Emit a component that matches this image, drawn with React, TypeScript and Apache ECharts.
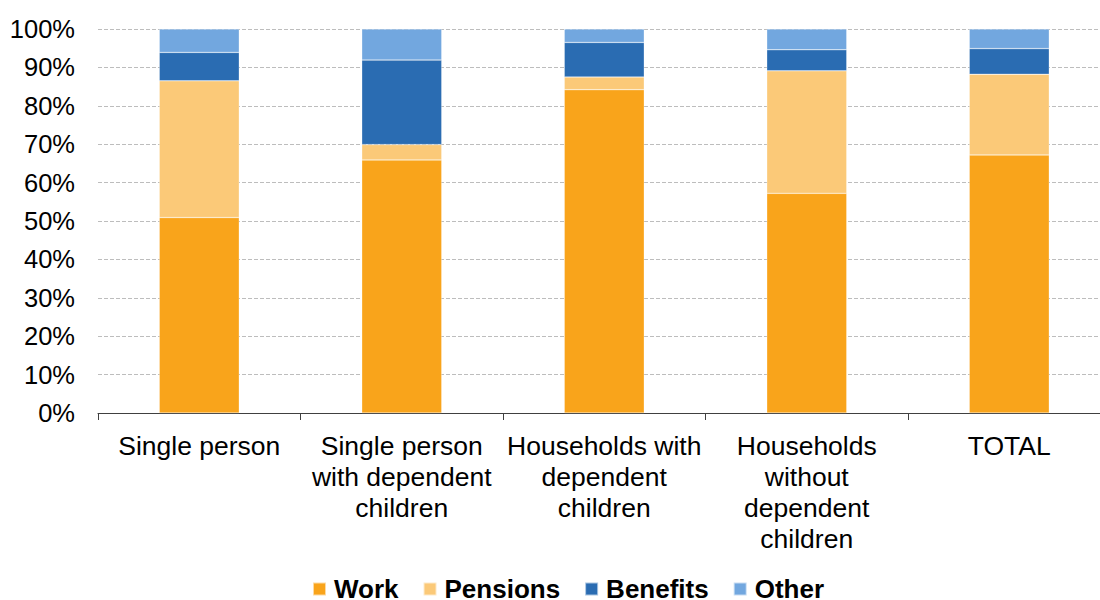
import React, { useEffect, useRef } from "react";
import * as echarts from "echarts";

const categories = [
  "Single person",
  "Single person\nwith dependent\nchildren",
  "Households with\ndependent\nchildren",
  "Households\nwithout\ndependent\nchildren",
  "TOTAL",
];
const work = [50.9, 65.9, 84.2, 57.2, 67.2];
const pensions = [35.6, 4.0, 3.3, 31.9, 21.0];
const benefits = [7.4, 22.0, 9.0, 5.5, 6.7];
const other = [6.1, 8.1, 3.5, 5.4, 5.1];

const seriesNames = ["Work", "Pensions", "Benefits", "Other"];
const seriesColors = ["#F9A41B", "#FBC978", "#2A6CB2", "#72A7DF"];
const seriesData = [work, pensions, benefits, other];

const FONT = "'Liberation Sans', Arial, sans-serif";

export default function App() {
  const ref = useRef<HTMLDivElement>(null);
  useEffect(() => {
    if (!ref.current) return;
    const chart = echarts.init(ref.current, null, { renderer: "svg" });
    chart.setOption({
      animation: false,
      backgroundColor: "#ffffff",
      textStyle: { fontFamily: FONT },
      grid: { left: 98, right: 1.5, top: 29, bottom: 187, containLabel: false },
      legend: {
        data: seriesNames,
        left: 312,
        top: 576,
        padding: 0,
        itemWidth: 13,
        itemHeight: 13,
        itemGap: 24,
        icon: "rect",
        textStyle: {
          fontFamily: FONT,
          fontSize: 26,
          lineHeight: 22,
          fontWeight: "bold",
          color: "#000",
          padding: [0, 0, 0, 3],
        },
      },
      xAxis: {
        type: "category",
        data: categories,
        axisLine: { show: true, lineStyle: { color: "#404040", width: 1 } },
        axisTick: { show: true, length: 7, lineStyle: { color: "#404040" }, alignWithLabel: false },
        axisLabel: {
          fontFamily: FONT,
          fontSize: 26.5,
          lineHeight: 31,
          color: "#000",
          margin: 17,
          interval: 0,
          align: "center",
        },
        splitLine: { show: false },
      },
      yAxis: {
        type: "value",
        min: 0,
        max: 100,
        interval: 10,
        axisLine: { show: false },
        axisTick: { show: false },
        axisLabel: {
          formatter: "{value}%",
          fontFamily: FONT,
          fontSize: 25.5,
          color: "#000",
          margin: 23,
        },
        splitLine: {
          show: true,
          lineStyle: { color: "#BDBDBD", type: [4, 2], width: 1 },
        },
      },
      series: seriesNames.map((name, i) => ({
        name,
        type: "bar",
        stack: "total",
        barWidth: 80,
        data: seriesData[i],
        itemStyle: {
          color: seriesColors[i],
          borderColor: "rgba(255,255,255,0.6)",
          borderWidth: 0.5,
        },
      })),
    });
    return () => chart.dispose();
  }, []);
  return (
    <div
      style={{
        position: "fixed",
        left: 0,
        top: 0,
        width: 1100,
        height: 600,
        overflow: "hidden",
        background: "#fff",
      }}
    >
      <div ref={ref} style={{ width: 1112, height: 600 }} />
    </div>
  );
}
